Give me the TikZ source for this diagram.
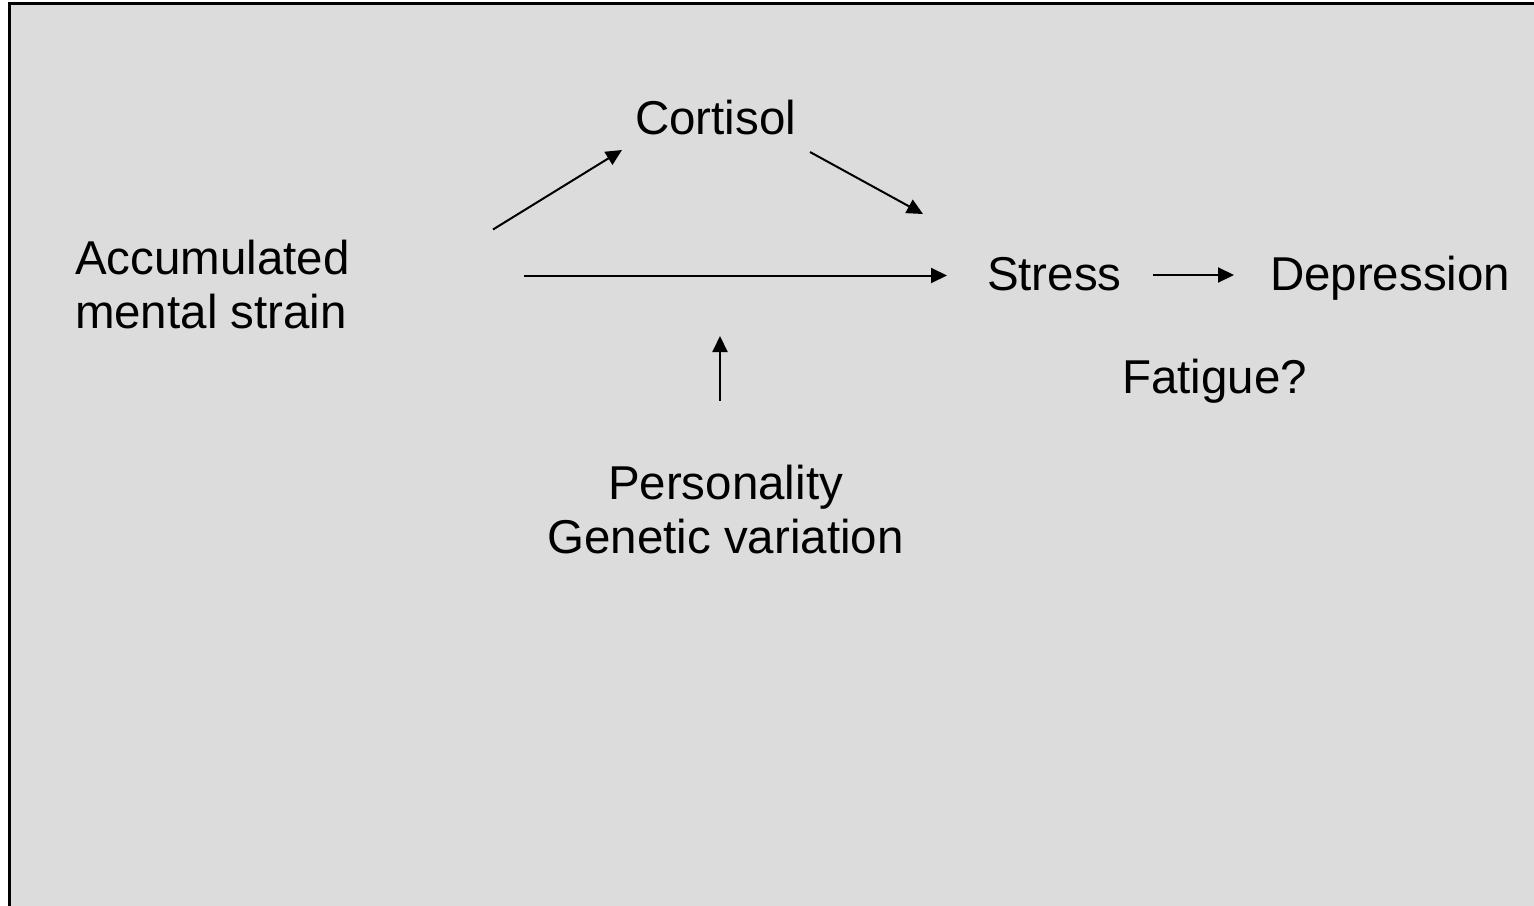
\documentclass[tikz,border=0pt]{standalone}
\usepackage{fontspec}
\setmainfont{Liberation Sans}
\usetikzlibrary{arrows.meta}
\definecolor{slidebg}{HTML}{DCDCDC}
\tikzset{
  lbl/.style={inner sep=0pt, outer sep=0pt, font=\fontsize{47.5}{54}\selectfont, text=black},
  conn/.style={line width=2pt, draw=black, -{Triangle[length=16pt,width=15pt]}},
}
\begin{document}
\begin{tikzpicture}[x=1pt,y=-1pt]
\useasboundingbox (0,0) rectangle (1534,905);
\fill[white] (0,0) rectangle (1534,905);
\fill[slidebg] (9.5,3.2) rectangle (1540,910);
\draw[line width=2.6pt, black] (1540,3.2) -- (9.5,3.2) -- (9.5,910);

\node[lbl, anchor=base west, align=left] (acc) at (75,328) {Accumulated\\mental strain};
\node[lbl, anchor=base west] (cort) at (635,134) {Cortisol};
\node[lbl, anchor=base west] (stress) at (987,290) {Stress};
\node[lbl, anchor=base west] (dep) at (1270,290) {Depression};
\node[lbl, anchor=base west] (fat) at (1122,393) {Fatigue?};
\node[lbl, anchor=base, align=center] (pers) at (725.5,553) {Personality\\Genetic variation};

\coordinate (a1s) at (493,229.5);
\coordinate (a1e) at (622,150);
\coordinate (a2s) at (810,152);
\coordinate (a2e) at (923,214);
\coordinate (a3s) at (524,275.5);
\coordinate (a3e) at (947,275.5);
\coordinate (a4s) at (1153,275);
\coordinate (a4e) at (1234,275);
\coordinate (a5s) at (720,401);
\coordinate (a5e) at (720,336);

\draw[conn] (a1s) -- (a1e);
\draw[conn] (a2s) -- (a2e);
\draw[conn] (a3s) -- (a3e);
\draw[conn] (a4s) -- (a4e);
\draw[conn] (a5s) -- (a5e);
\end{tikzpicture}
\end{document}
